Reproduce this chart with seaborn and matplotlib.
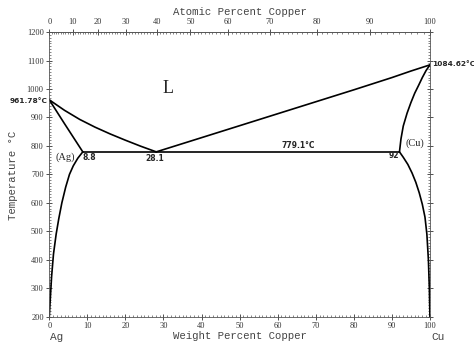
import numpy as np
import pandas as pd
import seaborn as sns
import matplotlib.pyplot as plt
from matplotlib.ticker import MultipleLocator, FixedLocator

# phase boundaries, weight percent copper vs temperature (deg C)
liquidus_ag_wt = [0, 4, 8, 12, 16, 20, 24, 28.1]
liquidus_ag_t = [961.78, 925, 893, 866, 842, 820, 799, 779.1]
liquidus_cu_wt = [28.1, 40, 50, 60, 70, 80, 90, 95, 100]
liquidus_cu_t = [779.1, 829, 871, 913, 955, 997, 1040, 1063, 1084.62]
solidus_ag_wt = [0, 4, 8.8]
solidus_ag_t = [961.78, 878, 779.1]
solvus_ag_wt = [8.8, 7.5, 6.3, 5.3, 4.3, 3.3, 2.5, 1.8, 1.1, 0.6, 0.25, 0]
solvus_ag_t = [779.1, 757, 730, 700, 655, 600, 545, 490, 420, 340, 260, 200]
solidus_cu_wt = [100, 99, 98, 97, 96, 95, 94, 93, 92.4, 92.0]
solidus_cu_t = [1084.62, 1065, 1040, 1012, 985, 952, 915, 870, 825, 779.1]
solvus_cu_wt = [92.0, 93.0, 94.2, 95.3, 96.3, 97.2, 98.0, 98.7, 99.2, 99.6, 99.85, 100]
solvus_cu_t = [779.1, 760, 735, 705, 672, 635, 595, 550, 490, 400, 300, 200]
eutectic_wt = [8.8, 92.0]
eutectic_t = [779.1, 779.1]

M_CU = 63.546
M_AG = 107.868


def wt_to_at(w):
    w = np.asarray(w, dtype=float)
    n_cu = w / M_CU
    n_ag = (100 - w) / M_AG
    return 100 * n_cu / (n_cu + n_ag)


def at_to_wt(a):
    a = np.asarray(a, dtype=float)
    m_cu = a * M_CU
    m_ag = (100 - a) * M_AG
    return 100 * m_cu / (m_cu + m_ag)


def build_frame():
    parts = [
        ('liq_ag', liquidus_ag_wt, liquidus_ag_t),
        ('liq_cu', liquidus_cu_wt, liquidus_cu_t),
        ('sol_ag', solidus_ag_wt, solidus_ag_t),
        ('solv_ag', solvus_ag_wt, solvus_ag_t),
        ('sol_cu', solidus_cu_wt, solidus_cu_t),
        ('solv_cu', solvus_cu_wt, solvus_cu_t),
        ('eut', eutectic_wt, eutectic_t),
    ]
    frames = [pd.DataFrame({'wt': w, 'temp': t, 'curve': name}) for name, w, t in parts]
    return pd.concat(frames, ignore_index=True)


def main():
    sns.set_style('ticks')
    plt.rcParams['font.family'] = ['Liberation Serif', 'DejaVu Serif']
    mono = 'Liberation Mono'
    label_col = '#444444'

    fig = plt.figure(figsize=(4.74, 3.51), dpi=100)
    ax = fig.add_axes([0.104, 0.0977, 0.803, 0.811])

    df = build_frame()
    sns.lineplot(data=df, x='wt', y='temp', units='curve', estimator=None,
                 sort=False, color='black', linewidth=1.2, ax=ax, legend=False)

    ax.set_xlim(0, 100)
    ax.set_ylim(200, 1200)
    ax.set_xlabel('')
    ax.set_ylabel('')

    ax.xaxis.set_major_locator(MultipleLocator(10))
    ax.xaxis.set_minor_locator(MultipleLocator(1))
    ax.yaxis.set_major_locator(MultipleLocator(100))
    ax.yaxis.set_minor_locator(MultipleLocator(10))
    ax.tick_params(which='major', direction='inout', length=4, width=0.6,
                   labelsize=6, pad=2, colors='#333333', top=False, right=True)
    ax.tick_params(which='minor', direction='in', length=1.5, width=0.5,
                   colors='#555555', top=False, right=True)
    ax.tick_params(axis='y', labelright=False)
    for s in ax.spines.values():
        s.set_linewidth(0.6)
        s.set_color('#555555')

    top = ax.secondary_xaxis('top', functions=(wt_to_at, at_to_wt))
    top.xaxis.set_major_locator(FixedLocator(np.arange(0, 101, 10)))
    top.xaxis.set_minor_locator(FixedLocator(np.arange(0, 101, 1)))
    top.tick_params(which='major', direction='inout', length=4, width=0.6,
                    labelsize=6, pad=2, colors='#333333')
    top.tick_params(which='minor', direction='in', length=1.5, width=0.5,
                    colors='#555555')
    top.spines['top'].set_linewidth(0.6)
    top.spines['top'].set_color('#555555')

    fig.text(0.507, 0.967, 'Atomic Percent Copper', ha='center', va='center',
             family=mono, fontsize=7.7, color=label_col)
    fig.text(0.507, 0.043, 'Weight Percent Copper', ha='center', va='center',
             family=mono, fontsize=7.7, color=label_col)
    fig.text(0.027, 0.50, 'Temperature \u00b0C', ha='center', va='center',
             rotation=90, family=mono, fontsize=7.7, color=label_col)
    fig.text(0.12, 0.04, 'Ag', ha='center', va='center', family=mono, fontsize=8, color=label_col)
    fig.text(0.923, 0.04, 'Cu', ha='center', va='center', family=mono, fontsize=8, color=label_col)

    ax.text(31.2, 1003, 'L', ha='center', va='center', fontsize=13)
    ax.text(4.1, 761, '(Ag)', ha='center', va='center', fontsize=7.5)
    ax.text(8.6, 761, '8.8', ha='left', va='center', fontsize=5.5, family='DejaVu Sans', fontweight='bold')
    ax.text(27.8, 755, '28.1', ha='center', va='center', fontsize=5.5, family='DejaVu Sans', fontweight='bold')
    ax.text(65.5, 800, '779.1\u00b0C', ha='center', va='center', fontsize=5.5, family='DejaVu Sans', fontweight='bold')
    ax.text(90.6, 768, '92', ha='center', va='center', fontsize=5.5, family='DejaVu Sans', fontweight='bold')
    ax.text(96.1, 809, '(Cu)', ha='center', va='center', fontsize=7.5)
    ax.text(-0.6, 957, '961.78\u00b0C', ha='right', va='center', fontsize=5.3,
            family='DejaVu Sans', fontweight='bold', clip_on=False)
    ax.text(100.6, 1087, '1084.62\u00b0C', ha='left', va='center', fontsize=5.3,
            family='DejaVu Sans', fontweight='bold', clip_on=False)

    fig.savefig('out.png', dpi=100, facecolor='white')


if __name__ == "__main__":
    main()
